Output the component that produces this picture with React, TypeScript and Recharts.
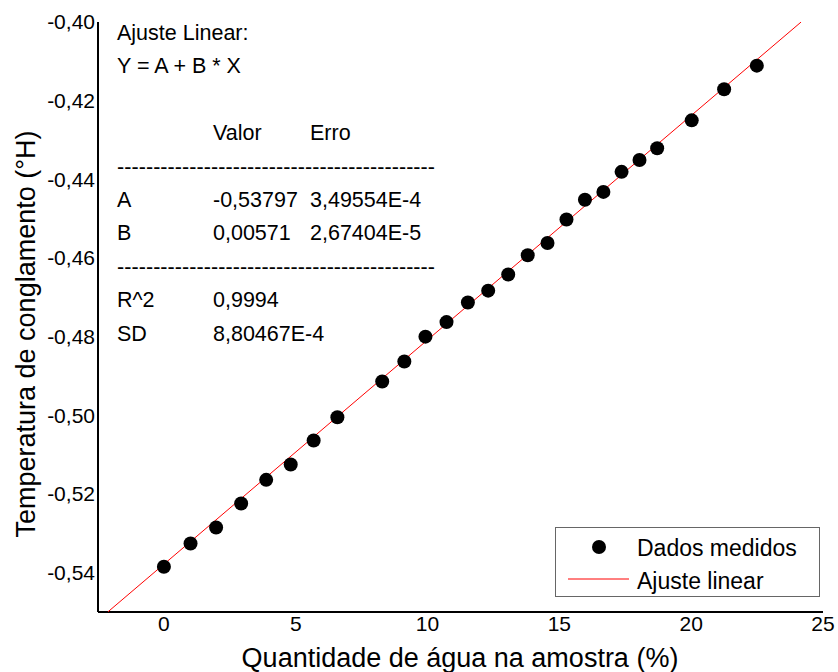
import { ScatterChart, Scatter, XAxis, YAxis, Customized } from 'recharts';

const waterPct = [0, 1.01, 1.98, 2.93, 3.88, 4.81, 5.68, 6.58, 8.28, 9.12, 9.92, 10.72, 11.53, 12.3, 13.06, 13.8, 14.55, 15.27, 15.97, 16.67, 17.36, 18.04, 18.71, 20.02, 21.25, 22.49];
const freezeTemp = [-0.5385, -0.5326, -0.5285, -0.5224, -0.5164, -0.5125, -0.5064, -0.5005, -0.4914, -0.4863, -0.48, -0.4763, -0.4713, -0.4683, -0.4642, -0.4593, -0.4562, -0.4502, -0.4452, -0.4432, -0.4381, -0.4351, -0.4321, -0.425, -0.4171, -0.4111];

// ends of the fitted line (clipped to the plot box)
const fitX = [-2.13, 24.17];
const fitY = [-0.55, -0.4];

const xTicks = [0, 5, 10, 15, 20, 25];
const yTicks = [-0.54, -0.52, -0.5, -0.48, -0.46, -0.44, -0.42, -0.4];

// fit report text block
const reportRows = [
  ['Ajuste Linear:', '', ''],
  ['Y = A + B * X', '', ''],
  ['', '', ''],
  ['', 'Valor', 'Erro'],
  ['--', '', ''],
  ['A', '-0,53797', '3,49554E-4'],
  ['B', '0,00571', '2,67404E-5'],
  ['--', '', ''],
  ['R^2', '0,9994', ''],
  ['SD', '8,80467E-4', ''],
];

const measured = waterPct.map((x, i) => ({ x, y: freezeTemp[i] }));
const fitted = fitX.map((x, i) => ({ x, y: fitY[i] }));

const FONT = '"Liberation Sans", Arial, sans-serif';

const fmtY = (v: number) => v.toFixed(2).replace('.', ',');

function Overlay() {
  const cols = [117, 213, 310];
  return (
    <g fontFamily={FONT} fill="#000">
      {reportRows.map((row, i) => {
        const y = 40 + i * 33.4;
        if (row[0] === '--') {
          return (
            <text key={i} x={117} y={y} fontSize={21.5} textLength={318} lengthAdjust="spacing">
              {'-'.repeat(44)}
            </text>
          );
        }
        return row.map((t, j) =>
          t ? (
            <text key={`${i}-${j}`} x={cols[j]} y={y} fontSize={21.5}>
              {t}
            </text>
          ) : null
        );
      })}

      {/* axis titles */}
      <text x={460} y={667} fontSize={27} textAnchor="middle">
        Quantidade de água na amostra (%)
      </text>
      <text x={35} y={334} fontSize={27} textAnchor="middle" transform="rotate(-90 35 334)">
        Temperatura de conglamento (°H)
      </text>

      {/* legend */}
      <g transform="translate(555,527)">
        <rect x={0.5} y={0.5} width={264} height={69} fill="#fff" stroke="#666" strokeWidth={1} />
        <circle cx={44} cy={20} r={7} fill="#000" />
        <line x1={13} x2={74} y1={52} y2={52} stroke="#ff0000" strokeWidth={1} />
        <text x={82} y={29} fontSize={23}>Dados medidos</text>
        <text x={82} y={62} fontSize={23}>Ajuste linear</text>
      </g>
    </g>
  );
}

export default function App() {
  return (
    <div style={{ position: 'absolute', left: 0, top: 0, background: '#fff' }}>
      <ScatterChart width={838} height={672} margin={{ top: 22, right: 15, bottom: 0, left: 0 }}>
        <XAxis
          type="number"
          dataKey="x"
          domain={[-2.5, 25]}
          ticks={xTicks}
          allowDataOverflow
          height={60}
          tickLine={false}
          tickSize={0}
          tickMargin={4}
          axisLine={{ stroke: '#000', strokeWidth: 2 }}
          tick={{ fill: '#000', fontSize: 21, fontFamily: FONT }}
        />
        <YAxis
          type="number"
          dataKey="y"
          domain={[-0.55, -0.4]}
          ticks={yTicks}
          allowDataOverflow
          width={98}
          tickLine={false}
          tickSize={0}
          tickMargin={3}
          tickFormatter={fmtY}
          axisLine={{ stroke: '#000', strokeWidth: 2 }}
          tick={{ fill: '#000', fontSize: 21, fontFamily: FONT }}
        />
        <Scatter
          data={fitted}
          line={{ stroke: '#ff0000', strokeWidth: 1 }}
          shape={() => <g />}
          isAnimationActive={false}
        />
        <Scatter
          data={measured}
          shape={(p: any) => <circle cx={p.cx} cy={p.cy} r={7} fill="#000" />}
          isAnimationActive={false}
        />
        <Customized component={Overlay} />
      </ScatterChart>
    </div>
  );
}
